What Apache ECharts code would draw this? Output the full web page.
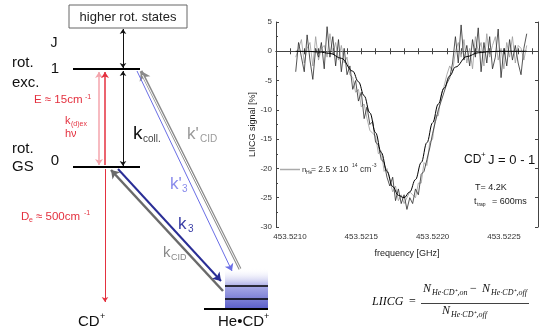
<!DOCTYPE html>
<html><head><meta charset="utf-8">
<script src="https://cdn.jsdelivr.net/npm/echarts@6/dist/echarts.min.js"></script>
<style>html,body{margin:0;padding:0;background:#fff}#c{width:540px;height:330px}</style>
</head><body><div id="c"></div>
<script>
// ---------- spectrum data ----------
const freq = [453.52104,453.52106,453.52108,453.52110,453.52112,453.52114,453.52116,453.52118,453.52120,453.52122,
453.52124,453.52126,453.52128,453.52130,453.52132,453.52134,453.52136,453.52138,453.52140,453.52142,
453.52144,453.52146,453.52148,453.52150,453.52152,453.52154,453.52156,453.52158,453.52160,453.52162,
453.52164,453.52166,453.52168,453.52170,453.52172,453.52174,453.52176,453.52178,453.52180,453.52182,
453.52184,453.52186,453.52188,453.52190,453.52192,453.52194,453.52196,453.52198,453.52200,453.52202,
453.52204,453.52206,453.52208,453.52210,453.52212,453.52214,453.52216,453.52218,453.52220,453.52222,
453.52224,453.52226,453.52228,453.52230,453.52232,453.52234,453.52236,453.52238,453.52240,453.52242,
453.52244,453.52246,453.52248,453.52250,453.52252,453.52254,453.52256,453.52258,453.52260,453.52262,
453.52264,453.52266];
const signalBlack = [-3.5,1.5,-1,-3.5,2.8,-1.5,-4.8,0.5,-1,1.5,
-3,4.2,-1,2.5,-2.5,2,-3.5,0.5,-4,-2.5,
-6.5,-5,-8.5,-7,-11.5,-9.5,-12.5,-12,-15.5,-16,
-18.5,-19,-21.5,-23,-21.5,-25.5,-23.5,-26,-24.5,-27,
-25,-26,-23.5,-24.5,-21,-20.5,-18.5,-16.5,-14,-12,
-10,-8.5,-7,-5.5,-4.5,-2,2.5,-2,4.5,-1.5,
1,-2.5,2,-1,4,-3.5,1.5,-2,2.5,-3,
-1,3.8,-4.5,0.5,-2.5,2,-1.5,1,-2,-4,
0.5,3];
const signalGrey = [-1,0.5,2,-2,0.5,1.5,-2.5,2.5,-1.5,0.5,
1,-1,3,-0.5,1.5,-1.5,1,-2,-1,-4,
-4.5,-7,-6.5,-9.5,-9,-11.5,-13.5,-14,-14.5,-17.5,
-17,-20.5,-20,-22,-24,-23,-25.5,-24.5,-26,-25,
-24,-24.5,-25,-22.5,-22.5,-19,-19.5,-15.5,-15,-11,
-11,-7.5,-6,-4,-2.5,-3.5,0,1.5,-1,2,
-2,0.5,-3,2.5,0,1.5,-2.5,3,-1,1,
2.5,-1.5,0.5,-3,1.5,-1,2.5,-2,1,0.5,
-1.5,1];
const fitFreq = [453.52104,453.52112,453.52120,453.52128,453.52136,453.52144,453.52148,453.52152,453.52156,453.52160,
453.52164,453.52168,453.52172,453.52176,453.52180,453.52184,453.52188,453.52192,453.52196,453.52200,
453.52204,453.52208,453.52212,453.52216,453.52224,453.52232,453.52240,453.52248,453.52256,453.52266];
const fitSignal = [0,-0.02,-0.1,-0.35,-1.2,-3.4,-5.2,-7.6,-10.5,-13.9,
-17.3,-20.5,-23.1,-24.6,-25.0,-24.0,-21.9,-19.0,-15.6,-12.2,
-9.0,-6.3,-4.2,-2.7,-0.9,-0.25,-0.06,0,0,0];
const xTickLabels = [453.5210, 453.5215, 453.5220, 453.5225];
const xMinorTicks = [453.5210,453.5211,453.5212,453.5213,453.5214,453.5215,453.5216,453.5217,453.5218,
453.5219,453.5220,453.5221,453.5222,453.5223,453.5224,453.5225,453.5226,453.5227];

// ---------- energy-level schematic (diagram units) ----------
const levelSegs = [[73,69,140,69],[73,167,140,167],[225,286,268,286],[225,299,268,299],[204,309,268,309]];
const levelWidths = [2,2,1.5,1.5,2];
const arrowSegs = [
  [123,29,123,68],   // higher states <-> J=1
  [123,71,123,166],  // k_coll
  [99,72,99,165],    // pink (hv emission)
  [105,165,105,72],  // red absorption
  [105,169,105,302], // D_e
  [240,269,141,71],  // k'CID
  [137,71,232,271],  // k'3
  [118,169,221,281], // k3
  [223,291,111,170]  // kCID
];
const boxes = [[69,5,187,28],[225,268,268,309]];

const chart = echarts.init(document.getElementById('c'), null, {renderer:'canvas'});
const FONT = '"Liberation Sans", Arial, sans-serif';
const xMin = 453.5209018, xMax = 453.5227391;

function txt(x, y, s, size, color, o) {
  o = o || {};
  return {type:'text', x:x, y:y, silent:true, z:100, scaleX:o.sx||1, rotation:o.rot||0,
    style:{text:s, font:(o.italic?'italic ':'')+size+'px '+(o.font||FONT), fill:color,
      textAlign:o.align||'left', align:o.align||'left', textVerticalAlign:'middle', verticalAlign:'middle'}};
}

const red = '#e4313f';
const arrowStyles = [
  {color:'#111', width:1, sym:['arrow','arrow'], ss:5},
  {color:'#111', width:1, sym:['arrow','arrow'], ss:5},
  {color:'#f4a4ac', width:1.5, sym:['arrow','arrow'], ss:6},
  {color:red, width:1.5, sym:['none','arrow'], ss:6},
  {color:red, width:1, sym:['none','arrow'], ss:5},
  {color:'#8a8a8a', width:3, sym:['none','arrow'], ss:9},
  {color:'#6a6ee6', width:1, sym:['none','arrow'], ss:7},
  {color:'#2a2e96', width:2, sym:['none','arrow'], ss:8},
  {color:'#6a6a6a', width:2.5, sym:['none','arrow'], ss:8}
];

const diagramLines = [];
levelSegs.forEach((s,i)=>diagramLines.push({coords:[[s[0],s[1]],[s[2],s[3]]], lineStyle:{color:'#000', width:levelWidths[i]}, symbol:['none','none']}));
arrowSegs.forEach((s,i)=>{
  const st = arrowStyles[i];
  diagramLines.push({coords:[[s[0],s[1]],[s[2],s[3]]], lineStyle:{color:st.color, width:st.width}, symbol:st.sym, symbolSize:st.ss});
});
// inner white of hollow k'CID arrow
const kc = arrowSegs[5];
diagramLines.push({coords:[[kc[0],kc[1]],[kc[2]+1.5,kc[3]+4]], lineStyle:{color:'#fff', width:1}, symbol:['none','none']});

const grad = new echarts.graphic.LinearGradient(0,0,0,1,[
  {offset:0,color:'rgba(255,255,255,0)'},{offset:0.45,color:'#a7a9e6'},{offset:1,color:'#5a5ec8'}]);

const option = {
  animation:false,
  backgroundColor:'#fff',
  grid:[
    {left:276, top:22, width:262, height:205},
    {left:0, top:0, width:540, height:330}
  ],
  xAxis:[
    {gridIndex:0, type:'value', min:xMin, max:xMax, position:'bottom',
     name:'frequency [GHz]', nameLocation:'middle', nameGap:22,
     nameTextStyle:{fontFamily:FONT, fontSize:9, color:'#222'},
     axisLine:{show:true, lineStyle:{color:'#444', width:1}},
     axisTick:{show:true, inside:true, length:3, customValues:xMinorTicks, lineStyle:{color:'#444'}},
     axisLabel:{show:true, customValues:xTickLabels, formatter:v=>v.toFixed(4), fontFamily:FONT, fontSize:8, color:'#333', margin:6},
     splitLine:{show:false}},
    {gridIndex:0, type:'value', min:xMin, max:xMax, position:'top',
     axisLine:{show:true, lineStyle:{color:'#444', width:1}},
     axisTick:{show:true, inside:true, length:3, customValues:xMinorTicks, lineStyle:{color:'#444'}},
     axisLabel:{show:false}, splitLine:{show:false}},
    {gridIndex:1, type:'value', min:0, max:540, show:false}
  ],
  yAxis:[
    {gridIndex:0, type:'value', min:-30, max:5, interval:5, position:'left',
     name:'LIICG signal [%]', nameLocation:'middle', nameGap:14,
     nameTextStyle:{fontFamily:FONT, fontSize:9, color:'#222'},
     axisLine:{show:true, lineStyle:{color:'#444', width:1}},
     axisTick:{show:true, inside:true, length:3, lineStyle:{color:'#444'}},
     minorTick:{show:true, splitNumber:2, length:2, lineStyle:{color:'#444'}},
     axisLabel:{fontFamily:FONT, fontSize:8, color:'#333', margin:4},
     splitLine:{show:false}},
    {gridIndex:0, type:'value', min:-30, max:5, interval:5, position:'right',
     axisLine:{show:true, lineStyle:{color:'#444', width:1}},
     axisTick:{show:true, inside:true, length:3, lineStyle:{color:'#444'}},
     axisLabel:{show:false}, splitLine:{show:false}},
    {gridIndex:1, type:'value', min:0, max:330, inverse:true, show:false}
  ],
  series:[
    {type:'line', xAxisIndex:0, yAxisIndex:0, data:freq.map((f,i)=>[f,signalGrey[i]]),
     showSymbol:false, symbol:'none', lineStyle:{color:'#9a9a9a', width:0.8}, z:2},
    {type:'line', xAxisIndex:0, yAxisIndex:0, data:freq.map((f,i)=>[f,signalBlack[i]]),
     showSymbol:false, symbol:'none', lineStyle:{color:'#2a2a2a', width:0.8}, z:3},
    {type:'line', xAxisIndex:0, yAxisIndex:0, data:fitFreq.map((f,i)=>[f,fitSignal[i]]),
     showSymbol:false, symbol:'none', smooth:0.4, smoothMonotone:'x', lineStyle:{color:'#000', width:1}, z:4},
    {type:'custom', xAxisIndex:2, yAxisIndex:2, coordinateSystem:'cartesian2d', data:boxes.map((b,i)=>[i]), z:1,
     renderItem:function(params, api){
       const b = boxes[params.dataIndex];
       const p0 = api.coord([b[0],b[1]]), p1 = api.coord([b[2],b[3]]);
       const isBox = params.dataIndex===0;
       return {type:'rect', shape:{x:p0[0], y:p0[1], width:p1[0]-p0[0], height:p1[1]-p0[1]},
         style: isBox ? {fill:'#fff', stroke:'#666', lineWidth:1} : {fill:grad}};
     }},
    {type:'lines', coordinateSystem:'cartesian2d', xAxisIndex:2, yAxisIndex:2, z:5,
     lineStyle:{opacity:1}, symbolSize:6, data:diagramLines}
  ],
  graphic:[
    txt(128,17,'higher rot. states',13,'#222',{align:'center'}),
    txt(54,43,'J',14,'#111',{align:'center'}),
    txt(12,63,'rot.',15,'#111'), txt(12,83,'exc.',15,'#111'),
    txt(55,69,'1',15,'#111',{align:'center'}),
    txt(34,100,'E ≈ 15cm',11.5,red), txt(85,97,'-1',7,red),
    txt(65,121,'k',11,red), txt(71,124,'(d)ex',7,red),
    txt(65,134,'hν',11,red),
    txt(12,149,'rot.',15,'#111'), txt(12,167,'GS',15,'#111'),
    txt(55,161,'0',15,'#111',{align:'center'}),
    txt(133,134,'k',19,'#111'), txt(143,139,'coll.',10,'#444'),
    txt(187,134,"k'",17,'#9a9a9a'), txt(200,139,'CID',10,'#9a9a9a'),
    txt(170,184,"k'",17,'#8a8cec'), txt(182,189,'3',10,'#8a8cec'),
    txt(178,224,'k',17,'#3a3ea6'), txt(188,229,'3',10,'#3a3ea6'),
    txt(163,253,'k',15,'#888'), txt(171,258,'CID',9,'#888'),
    txt(21,217,'D',11.5,red), txt(29,220,'e',7,red), txt(36,217,'≈ 500cm',11.5,red), txt(84,213,'-1',7,red),
    txt(78,322,'CD',15,'#111'), txt(100,317,'+',9,'#111'),
    txt(218,322,'He•CD',15,'#111'), txt(264,317,'+',9,'#111'),
    {type:'line', silent:true, z:100, shape:{x1:280,y1:169.5,x2:300,y2:169.5}, style:{stroke:'#aaa', lineWidth:1.5}},
    txt(302,170,'n',8,'#333'), txt(306,173,'He',5,'#333'), txt(311,170,'= 2.5 x 10',8.5,'#333'),
    txt(352,166,'14',5,'#333'), txt(360,170,'cm',8.5,'#333'), txt(372,166,'-3',5,'#333'),
    txt(464,160,'CD',12,'#111'), txt(481,155,'+',8,'#111'), txt(488,160,'J = 0 - 1',13,'#111'),
    txt(475,188,'T= 4.2K',9,'#222'),
    txt(474,202,'t',9,'#222'), txt(477,205,'trap',5,'#222'), txt(492,202,'= 600ms',9,'#222'),
    txt(372,302,'LIICG',12,'#111',{italic:true,font:'"Liberation Serif", serif'}),
    txt(409,302,'=',12,'#111',{font:'"Liberation Serif", serif'}),
    txt(423,289,'N',12,'#111',{italic:true,font:'"Liberation Serif", serif'}),
    txt(432,293,'He·CD⁺,on',8,'#111',{italic:true,font:'"Liberation Serif", serif'}),
    txt(470,289,'−',12,'#111',{font:'"Liberation Serif", serif'}),
    txt(482,289,'N',12,'#111',{italic:true,font:'"Liberation Serif", serif'}),
    txt(491,293,'He·CD⁺,off',8,'#111',{italic:true,font:'"Liberation Serif", serif'}),
    {type:'line', silent:true, z:100, shape:{x1:421,y1:303.5,x2:529,y2:303.5}, style:{stroke:'#111', lineWidth:0.8}},
    txt(442,311,'N',12,'#111',{italic:true,font:'"Liberation Serif", serif'}),
    txt(451,315,'He·CD⁺,off',8,'#111',{italic:true,font:'"Liberation Serif", serif'})
  ]
};
chart.setOption(option);
</script>
</body></html>
